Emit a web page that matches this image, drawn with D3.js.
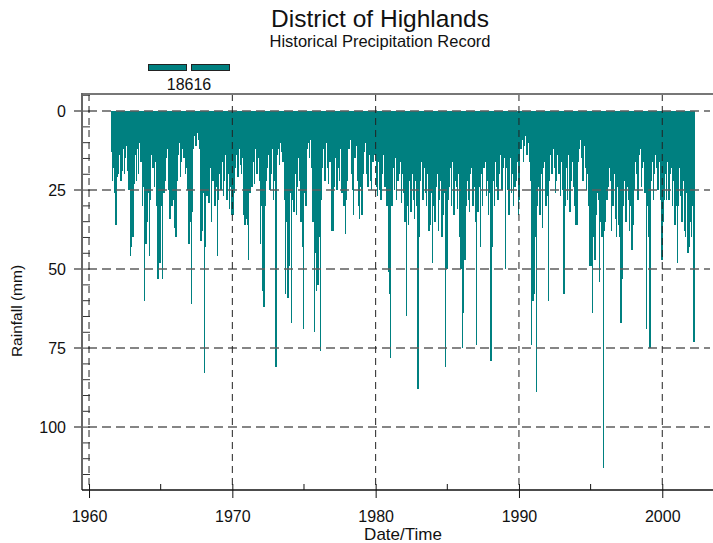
<!DOCTYPE html>
<html>
<head>
<meta charset="utf-8">
<script src="https://cdn.jsdelivr.net/npm/d3@7"></script>
<style>
  html, body { margin: 0; padding: 0; background: #fff; }
  svg { display: block; }
  text { font-family: Arial, "Liberation Sans", Helvetica, sans-serif; fill: #111; }
</style>
</head>
<body>
<svg id="chart" width="713" height="543"></svg>
<script>
// ---- Data: monthly maximum daily rainfall (mm) ----
// Series starts July 1961
const seriesName = "18616";
const startYear = 1961, startMonth = 6; // July (0-based)
const rain1960s = [
  13,22,18,26,36,21,
  20,14,22,19,12,20,15,11,19,25,46,43,
  40,23,14,22,12,20,10,16,30,24,60,42,
  35,26,46,28,14,18,24,16,30,53,33,48,
  30,53,26,22,15,12,25,34,20,30,28,37,
  40,22,14,10,21,16,12,15,20,18,25,42,
  35,61,32,12,8,11,7,9,12,41,38,26,
  83,43,27,20,29,18,35,22,16,30,24,46,
  28,20,25,16,27,22,14,28,20,31,24,33
];
const rain1970s = [
  33,26,18,14,21,12,17,20,15,33,36,34,
  36,47,26,14,24,16,23,12,20,15,22,42,
  30,57,62,30,22,18,14,25,20,12,28,22,
  81,14,12,17,10,13,16,28,58,35,59,49,
  26,67,28,32,20,33,24,15,22,35,43,69,
  26,30,12,10,15,9,18,35,70,45,57,55,
  40,76,28,18,12,22,10,18,23,16,14,38,
  38,24,15,25,18,22,12,26,20,30,39,28,
  22,12,9,20,25,33,15,11,22,30,34,24,
  33,20,13,10,20,24,14,22,25,16,12,14
];
const rain1980s = [
  24,27,16,25,28,20,14,24,22,30,51,58,
  78,30,18,25,15,28,22,20,16,29,20,26,
  35,65,30,36,22,32,20,28,34,22,30,88,
  40,22,16,28,18,26,30,20,38,36,26,48,
  30,35,24,20,38,28,22,40,33,26,81,50,
  28,24,18,30,16,33,22,24,31,20,40,50,
  75,64,47,30,22,28,32,20,18,30,24,35,
  74,32,24,43,20,30,18,16,27,22,33,26,
  79,43,22,30,16,24,28,20,14,25,18,15,
  50,18,25,33,15,26,20,30,24,22,16,33
];
const rain1990s = [
  28,12,9,16,11,8,14,10,16,22,74,60,
  58,40,89,30,24,33,20,37,18,16,30,27,
  60,22,14,20,12,18,26,22,14,20,27,16,
  25,58,30,18,28,14,32,22,16,24,30,36,
  36,16,12,9,15,22,11,18,25,20,30,49,
  49,64,40,47,33,26,28,54,35,40,113,38,
  35,28,24,18,22,38,30,20,34,40,24,36,
  40,67,53,30,22,35,24,28,38,30,44,36,
  25,16,20,28,14,12,24,18,16,26,69,30,
  40,75,22,16,28,20,14,18,25,16,28,47
];
const rain2000s = [
  35,28,20,28,16,28,20,18,30,22,36,30,
  48,30,18,27,35,22,38,40,26,45,43,35,
  40,30,73
];
const yearTicks = [1960, 1970, 1980, 1990, 2000];
const yearMinorTicks = [1965, 1975, 1985, 1995];
const rainTicks = [0, 25, 50, 75, 100];
const titleText = "District of Highlands";
const subtitleText = "Historical Precipitation Record";
const xLabel = "Date/Time";
const yLabel = "Rainfall (mm)";

// ---- Build records ----
const allRain = [].concat(rain1960s, rain1970s, rain1980s, rain1990s, rain2000s);
const records = allRain.map((v, i) => {
  const mi = startMonth + i;
  const t0 = startYear + mi / 12;
  return { t0: t0, t1: t0 + 1 / 12, v: v };
});

// ---- Layout ----
const teal = "#008080";
const L = 82, R = 712, T = 94, B = 490;
const svg = d3.select("#chart");

const x = d3.scaleLinear().domain([1959.51, 2003.47]).range([L, R]);
const y = d3.scaleLinear().domain([-5.4, 119.9]).range([T, B]);

// data bars
svg.append("g")
  .attr("shape-rendering", "crispEdges")
  .selectAll("rect")
  .data(records)
  .join("rect")
  .attr("x", d => x(d.t0))
  .attr("width", d => x(d.t1) - x(d.t0) + 0.3)
  .attr("y", y(0))
  .attr("height", d => y(d.v) - y(0))
  .attr("fill", teal);

// horizontal dashed grid (on top of data)
svg.append("g")
  .selectAll("line")
  .data(rainTicks)
  .join("line")
  .attr("x1", L - 8).attr("x2", R - 2)
  .attr("y1", d => y(d)).attr("y2", d => y(d))
  .attr("stroke", "#5e5e5e").attr("stroke-width", 1.5)
  .attr("stroke-dasharray", "9,5");

// vertical dashed grid
svg.append("g")
  .selectAll("line")
  .data(yearTicks)
  .join("line")
  .attr("x1", d => x(d)).attr("x2", d => x(d))
  .attr("y1", T).attr("y2", B)
  .attr("stroke", "#222").attr("stroke-width", 1)
  .attr("stroke-dasharray", "7,5");

// left minor ticks (inward) every 5 mm
const leftMinor = d3.range(-5, 120, 5);
svg.append("g")
  .selectAll("line")
  .data(leftMinor)
  .join("line")
  .attr("x1", L).attr("x2", L + 8)
  .attr("y1", d => y(d)).attr("y2", d => y(d))
  .attr("stroke", "#333").attr("stroke-width", 1);

// bottom minor ticks (inward)
svg.append("g")
  .selectAll("line")
  .data(yearMinorTicks)
  .join("line")
  .attr("x1", d => x(d)).attr("x2", d => x(d))
  .attr("y1", B).attr("y2", B - 6)
  .attr("stroke", "#111").attr("stroke-width", 1);

// frame lines
svg.append("line").attr("x1", L).attr("x2", 713).attr("y1", T).attr("y2", T)
  .attr("stroke", "#777").attr("stroke-width", 2);
svg.append("line").attr("x1", L).attr("x2", L).attr("y1", T - 1).attr("y2", B)
  .attr("stroke", "#666").attr("stroke-width", 2);

// bottom axis
const xAxis = d3.axisBottom(x).tickValues(yearTicks).tickFormat(d3.format("d"))
  .tickSizeInner(8).tickSizeOuter(0).tickPadding(13);
const gx = svg.append("g").attr("transform", `translate(0,${B})`).call(xAxis);
gx.select(".domain").remove();
gx.selectAll(".tick line").attr("stroke", "#111").attr("y1", -6);
gx.selectAll(".tick text").attr("font-size", 16).attr("fill", "#111")
  .style("font-family", "Arial, 'Liberation Sans', sans-serif");
svg.append("line").attr("x1", L).attr("x2", 713).attr("y1", B).attr("y2", B)
  .attr("stroke", "#111").attr("stroke-width", 1.3);

// left axis labels
const yAxis = d3.axisLeft(y).tickValues(rainTicks).tickFormat(d3.format("d"))
  .tickSizeInner(0).tickSizeOuter(0).tickPadding(16);
const gy = svg.append("g").attr("transform", `translate(${L},0)`).call(yAxis);
gy.select(".domain").remove();
gy.selectAll(".tick line").remove();
gy.selectAll(".tick text").attr("font-size", 16).attr("fill", "#111")
  .style("font-family", "Arial, 'Liberation Sans', sans-serif");

// titles
svg.append("text").attr("x", 380).attr("y", 27).attr("text-anchor", "middle")
  .attr("font-size", 24.5).text(titleText);
svg.append("text").attr("x", 380).attr("y", 47).attr("text-anchor", "middle")
  .attr("font-size", 16.5).text(subtitleText);

// axis titles
svg.append("text").attr("x", 403).attr("y", 540).attr("text-anchor", "middle")
  .attr("font-size", 17).text(xLabel);
svg.append("text").attr("transform", "translate(22,311) rotate(-90)")
  .attr("text-anchor", "middle").attr("font-size", 15.5).text(yLabel);

// legend
const legendRects = [148.5, 191.5];
svg.append("g").selectAll("rect").data(legendRects).join("rect")
  .attr("x", d => d).attr("y", 64.5).attr("width", 38).attr("height", 6)
  .attr("fill", teal).attr("stroke", "#222").attr("stroke-width", 1);
svg.append("text").attr("x", 189).attr("y", 90).attr("text-anchor", "middle")
  .attr("font-size", 16).text(seriesName);
</script>
</body>
</html>
